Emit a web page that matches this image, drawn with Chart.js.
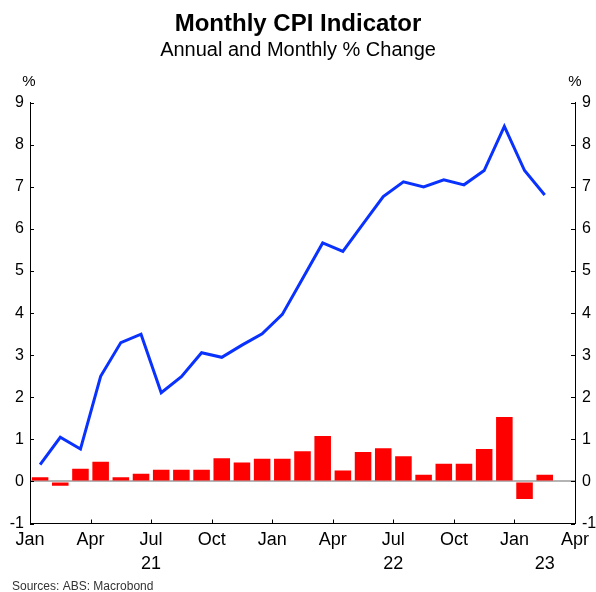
<!DOCTYPE html>
<html>
<head>
    <title>Monthly CPI Indicator</title>
    <style>
        body { margin: 0; background: #fff; }
        .chart-container { width: 596px; height: 592px; }
    </style>
    <script src="https://cdn.jsdelivr.net/npm/chart.js"></script>
</head>
<body>
    <div class="chart-container">
        <canvas id="chart1" width="596" height="592"></canvas>
    </div>
    <script>
        // Jan 2021 .. Feb 2023, one value per month
        const firstYear = 2021;
        const monthNames = ['Jan', 'Feb', 'Mar', 'Apr', 'May', 'Jun', 'Jul', 'Aug', 'Sep', 'Oct', 'Nov', 'Dec'];
        const annualChange = [0.4, 1.05, 0.77, 2.5, 3.3, 3.5, 2.11, 2.49, 3.06, 2.95, 3.24, 3.51,
                              3.97, 4.82, 5.67, 5.47, 6.12, 6.77, 7.12, 7.0, 7.17, 7.05, 7.39, 8.44,
                              7.39, 6.81];
        const monthlyChange = [0.1, -0.1, 0.3, 0.47, 0.1, 0.18, 0.28, 0.28, 0.28, 0.55, 0.45, 0.54,
                               0.54, 0.72, 1.08, 0.26, 0.7, 0.79, 0.6, 0.16, 0.42, 0.42, 0.77, 1.53,
                               -0.42, 0.16];
        const yearLabels = ['21', '22', '23'];
        const axisMonths = 27; // Jan 2021 .. Apr 2023
        const yMin = -1;
        const yMax = 9;

        Chart.defaults.font.family = '"Liberation Sans", Arial, sans-serif';
        Chart.defaults.color = '#000';

        const toPoints = arr => arr.map((v, i) => ({ x: i + 0.5, y: v }));

        // inward tick marks, % unit labels, year row and source note
        const decorations = {
            id: 'decorations',
            afterDatasetsDraw(chart) {
                const ctx = chart.ctx;
                const area = chart.chartArea;
                ctx.save();
                ctx.strokeStyle = '#000';
                ctx.lineWidth = 1;
                ctx.beginPath();
                chart.scales.x.ticks.forEach(t => {
                    const px = Math.round(chart.scales.x.getPixelForValue(t.value)) + 0.5;
                    ctx.moveTo(px, area.bottom);
                    ctx.lineTo(px, area.bottom - 4);
                });
                chart.scales.y.ticks.forEach(t => {
                    const py = Math.round(chart.scales.y.getPixelForValue(t.value)) + 0.5;
                    ctx.moveTo(area.left, py);
                    ctx.lineTo(area.left + 4, py);
                    ctx.moveTo(area.right, py);
                    ctx.lineTo(area.right - 4, py);
                });
                ctx.stroke();
                ctx.restore();
            },
            afterDraw(chart) {
                const ctx = chart.ctx;
                const area = chart.chartArea;
                const x = chart.scales.x;
                ctx.save();
                ctx.fillStyle = '#000';
                ctx.textAlign = 'center';
                ctx.textBaseline = 'middle';
                ctx.font = '15px "Liberation Sans", Arial, sans-serif';
                ctx.fillText('%', area.left - 1, 82);
                ctx.fillText('%', area.right, 82);

                ctx.font = '18px "Liberation Sans", Arial, sans-serif';
                yearLabels.forEach((label, i) => {
                    const start = Math.max(0, i * 12);
                    const end = Math.min(axisMonths, (i + 1) * 12);
                    ctx.fillText(label, x.getPixelForValue((start + end) / 2), 564);
                });

                ctx.fillStyle = '#333';
                ctx.textAlign = 'left';
                ctx.font = '12px "Liberation Sans", Arial, sans-serif';
                ctx.fillText('Sources: ABS: Macrobond', 12, 587);
                ctx.restore();
            }
        };

        const ctx1 = document.getElementById('chart1').getContext('2d');

        const chart1 = new Chart(ctx1, {
            type: 'bar',
            data: {
                datasets: [{
                    type: 'line',
                    label: 'Annual',
                    data: toPoints(annualChange),
                    borderColor: '#0a32ff',
                    borderWidth: 3,
                    pointRadius: 0,
                    tension: 0,
                    fill: false,
                    order: 0
                }, {
                    type: 'bar',
                    label: 'Monthly',
                    data: toPoints(monthlyChange),
                    backgroundColor: '#ff0000',
                    borderWidth: 0,
                    barPercentage: 0.82,
                    categoryPercentage: 1,
                    order: 1
                }]
            },
            options: {
                responsive: false,
                animation: false,
                layout: { padding: 0 },
                plugins: {
                    legend: { display: false },
                    tooltip: { enabled: false },
                    title: {
                        display: true,
                        text: 'Monthly CPI Indicator',
                        font: { size: 24, weight: 'bold' },
                        padding: { top: 10, bottom: 0 }
                    },
                    subtitle: {
                        display: true,
                        text: 'Annual and Monthly % Change',
                        font: { size: 20 },
                        color: '#000',
                        padding: { top: 0, bottom: 40 }
                    }
                },
                scales: {
                    x: {
                        type: 'linear',
                        min: 0,
                        max: axisMonths,
                        offset: false,
                        grid: { display: false, drawTicks: false, offset: false },
                        border: { display: true, color: '#000', width: 1 },
                        ticks: {
                            stepSize: 3,
                            autoSkip: false,
                            maxRotation: 0,
                            padding: 6,
                            font: { size: 18 },
                            callback: value => monthNames[value % 12]
                        },
                        afterFit: scale => { scale.height = 68.5; }
                    },
                    y: {
                        position: 'left',
                        min: yMin,
                        max: yMax,
                        grid: {
                            drawTicks: false,
                            lineWidth: 2,
                            color: c => c.tick && c.tick.value === 0 ? '#b4b4b4' : 'rgba(0,0,0,0)'
                        },
                        border: { display: true, color: '#000', width: 1 },
                        ticks: { stepSize: 1, padding: 6, font: { size: 16 } },
                        afterFit: scale => { scale.width = 30; }
                    },
                    y2: {
                        position: 'right',
                        min: yMin,
                        max: yMax,
                        grid: { display: false, drawTicks: false },
                        border: { display: true, color: '#000', width: 1 },
                        ticks: { stepSize: 1, padding: 7, font: { size: 16 } },
                        afterFit: scale => { scale.width = 21; }
                    }
                }
            },
            plugins: [decorations]
        });
    </script>
</body>
</html>
